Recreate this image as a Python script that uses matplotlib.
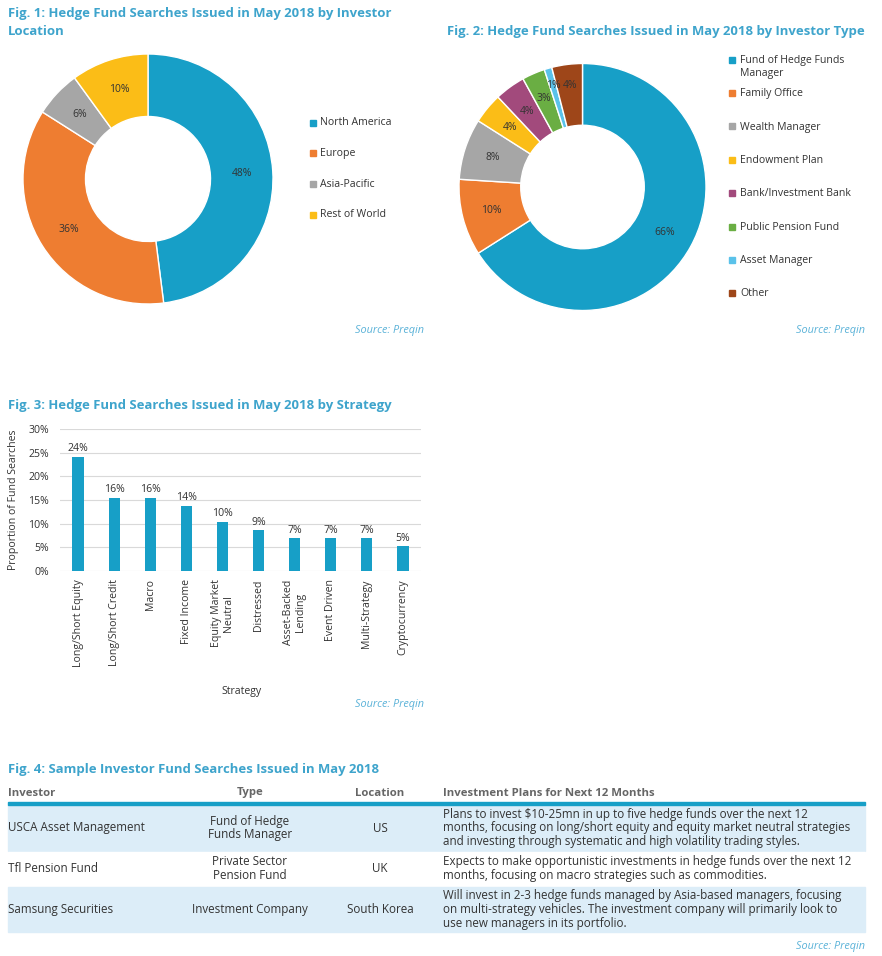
import numpy as np
import matplotlib
matplotlib.use('Agg')
import matplotlib.pyplot as plt
from matplotlib.patches import Rectangle
from matplotlib.ticker import PercentFormatter

plt.rcParams['font.family'] = ['Open Sans', 'DejaVu Sans']

# ---------------- data ----------------
loc_labels = ['North America', 'Europe', 'Asia-Pacific', 'Rest of World']
loc_values = [48, 36, 6, 10]

type_labels = ['Fund of Hedge Funds\nManager', 'Family Office', 'Wealth Manager', 'Endowment Plan',
               'Bank/Investment Bank', 'Public Pension Fund', 'Asset Manager', 'Other']
type_values = [66, 10, 8, 4, 4, 3, 1, 4]

strategies = ['Long/Short Equity', 'Long/Short Credit', 'Macro', 'Fixed Income', 'Equity Market\nNeutral',
              'Distressed', 'Asset-Backed\nLending', 'Event Driven', 'Multi-Strategy', 'Cryptocurrency']
strategy_values = [24.1, 15.5, 15.5, 13.8, 10.3, 8.6, 6.9, 6.9, 6.9, 5.2]

table_header = ['Investor', 'Type', 'Location', 'Investment Plans for Next 12 Months']
table_investors = ['USCA Asset Management', 'Tfl Pension Fund', 'Samsung Securities']
table_types = ['Fund of Hedge\nFunds Manager', 'Private Sector\nPension Fund', 'Investment Company']
table_locations = ['US', 'UK', 'South Korea']
table_plans = [
    'Plans to invest $10-25mn in up to five hedge funds over the next 12\n'
    'months, focusing on long/short equity and equity market neutral strategies\n'
    'and investing through systematic and high volatility trading styles.',
    'Expects to make opportunistic investments in hedge funds over the next 12\n'
    'months, focusing on macro strategies such as commodities.',
    'Will invest in 2-3 hedge funds managed by Asia-based managers, focusing\n'
    'on multi-strategy vehicles. The investment company will primarily look to\n'
    'use new managers in its portfolio.',
]

# ---------------- style ----------------
BLUE = '#179fc7'
loc_colors = [BLUE, '#ee7d31', '#a6a6a6', '#fbbd17']
type_colors = [BLUE, '#ee7d31', '#a6a6a6', '#fbbd17', '#a24a7c', '#6aae43', '#5ac2ea', '#9e4619']
TITLE_C = '#3ea4cc'
SRC_C = '#5ab2d8'
TXT_C = '#333333'
ROW_C = '#dcedf8'

W, H = 882, 956
fig = plt.figure(figsize=(W / 100, H / 100), dpi=100)

# background overlay axes in pixel coordinates
bg = fig.add_axes([0, 0, 1, 1])
bg.set_xlim(0, W)
bg.set_ylim(H, 0)
bg.axis('off')


def add_ax(l, t, w, h):
    return fig.add_axes([l / W, 1 - (t + h) / H, w / W, h / H])


title_kw = dict(fontsize=9.45, fontweight='bold', color=TITLE_C)
src_kw = dict(fontsize=7.8, style='italic', color=SRC_C)
pie_txt = dict(fontsize=7.5, color=TXT_C)

# ---------------- Fig 1 ----------------
bg.text(8, 7, 'Fig. 1: Hedge Fund Searches Issued in May 2018 by Investor\nLocation',
        ha='left', va='top', linespacing=1.5, **title_kw)
ax1 = add_ax(23, 54, 250, 250)
ax1.pie(loc_values, colors=loc_colors, startangle=90, counterclock=False, radius=1,
        wedgeprops=dict(width=0.5, edgecolor='white', linewidth=1),
        autopct='%.0f%%', pctdistance=0.75, textprops=pie_txt)
ax1.set_xlim(-1, 1)
ax1.set_ylim(-1, 1)
ax1.set_aspect('equal')
for i, (lab, col) in enumerate(zip(loc_labels, loc_colors)):
    y = 122.5 + i * 30.8
    bg.add_patch(Rectangle((309.5, y - 3), 6, 6, color=col))
    bg.text(320, y, lab, ha='left', va='center', fontsize=7.6, color=TXT_C)
bg.text(424, 331, 'Source: Preqin', ha='right', va='center', **src_kw)

# ---------------- Fig 2 ----------------
bg.text(865, 31, 'Fig. 2: Hedge Fund Searches Issued in May 2018 by Investor Type',
        ha='right', va='center', **title_kw)
ax2 = add_ax(582.5 - 123.5, 187 - 123.5, 247, 247)
_, _, autos2 = ax2.pie(type_values, colors=type_colors, startangle=90, counterclock=False, radius=1,
                       wedgeprops=dict(width=0.5, edgecolor='white', linewidth=1),
                       autopct='%.0f%%', pctdistance=0.76, textprops=pie_txt)
# labels of the narrow top wedges sit a little further out (as in the reference)
for t, d in zip(autos2[-3:], [0.78, 0.86, 0.83]):
    px, py = t.get_position()
    t.set_position((px * d / 0.76, py * d / 0.76))
ax2.set_xlim(-1, 1)
ax2.set_ylim(-1, 1)
ax2.set_aspect('equal')
for i, (lab, col) in enumerate(zip(type_labels, type_colors)):
    y = 59.5 + i * 33.4
    bg.add_patch(Rectangle((728.5, y - 3), 6, 6, color=col))
    bg.text(740, y - 4.8, lab, ha='left', va='top', fontsize=7.6, color=TXT_C, linespacing=1.3)
bg.text(865, 331, 'Source: Preqin', ha='right', va='center', **src_kw)

# ---------------- Fig 3 ----------------
bg.text(8, 405, 'Fig. 3: Hedge Fund Searches Issued in May 2018 by Strategy',
        ha='left', va='center', **title_kw)
ax3 = add_ax(60, 429, 361, 142)
x = np.arange(len(strategies))
bars = ax3.bar(x, strategy_values, width=0.31, color=BLUE, zorder=3)
ax3.set_xlim(-0.5, len(strategies) - 0.5)
ax3.set_ylim(0, 30)
ax3.set_yticks(np.arange(0, 31, 5))
ax3.yaxis.set_major_formatter(PercentFormatter(decimals=0))
ax3.grid(axis='y', color='#d9d9d9', linewidth=0.8, zorder=0)
ax3.set_axisbelow(True)
for s in ax3.spines.values():
    s.set_visible(False)
ax3.tick_params(axis='both', length=0, labelsize=7.6, labelcolor=TXT_C)
ax3.tick_params(axis='y', pad=8)
ax3.tick_params(axis='x', pad=6)
ax3.set_xticks(x)
ax3.set_xticklabels(strategies, rotation=90, ha='center', va='top', linespacing=1.1)
ax3.bar_label(bars, labels=[f'{v:.0f}%' for v in strategy_values], padding=2,
              fontsize=7.6, color=TXT_C)
ax3.set_ylabel('Proportion of Fund Searches', fontsize=7.6, color=TXT_C)
ax3.yaxis.set_label_coords((19 - 60) / 361, 0.5)
ax3.set_xlabel('Strategy', fontsize=7.6, color=TXT_C)
ax3.xaxis.set_label_coords((242 - 60) / 361, (571 - 686) / 142)
bg.text(424, 704, 'Source: Preqin', ha='right', va='center', **src_kw)

# ---------------- Fig 4 (table) ----------------
bg.text(8, 770, 'Fig. 4: Sample Investor Fund Searches Issued in May 2018',
        ha='left', va='center', fontsize=9.45, fontweight='bold', color=TITLE_C)
hdr_kw = dict(fontsize=8.2, fontweight='bold', color='#666666', va='center')
bg.text(8, 793, table_header[0], ha='left', **hdr_kw)
bg.text(250, 793, table_header[1], ha='center', **hdr_kw)
bg.text(380, 793, table_header[2], ha='center', **hdr_kw)
bg.text(443, 793, table_header[3], ha='left', **hdr_kw)
bg.add_patch(Rectangle((8, 801.5), 857, 3.5, color=BLUE))

row_bounds = [(805, 851), (851.5, 886), (886.5, 932)]
row_fill = [ROW_C, 'white', ROW_C]
cell_kw = dict(fontsize=8.4, color=TXT_C, va='center', linespacing=1.08)
for (t0, t1), fc, inv, typ, loc, plan in zip(row_bounds, row_fill, table_investors,
                                             table_types, table_locations, table_plans):
    bg.add_patch(Rectangle((8, t0), 857, t1 - t0, color=fc, zorder=0))
    yc = (t0 + t1) / 2
    bg.text(8, yc, inv, ha='left', **cell_kw)
    bg.text(250, yc, typ, ha='center', multialignment='center', **cell_kw)
    bg.text(380, yc, loc, ha='center', **cell_kw)
    bg.text(443, yc, plan, ha='left', **cell_kw)
bg.text(865, 947, 'Source: Preqin', ha='right', va='center', **src_kw)

fig.savefig('out.png', dpi=100)
